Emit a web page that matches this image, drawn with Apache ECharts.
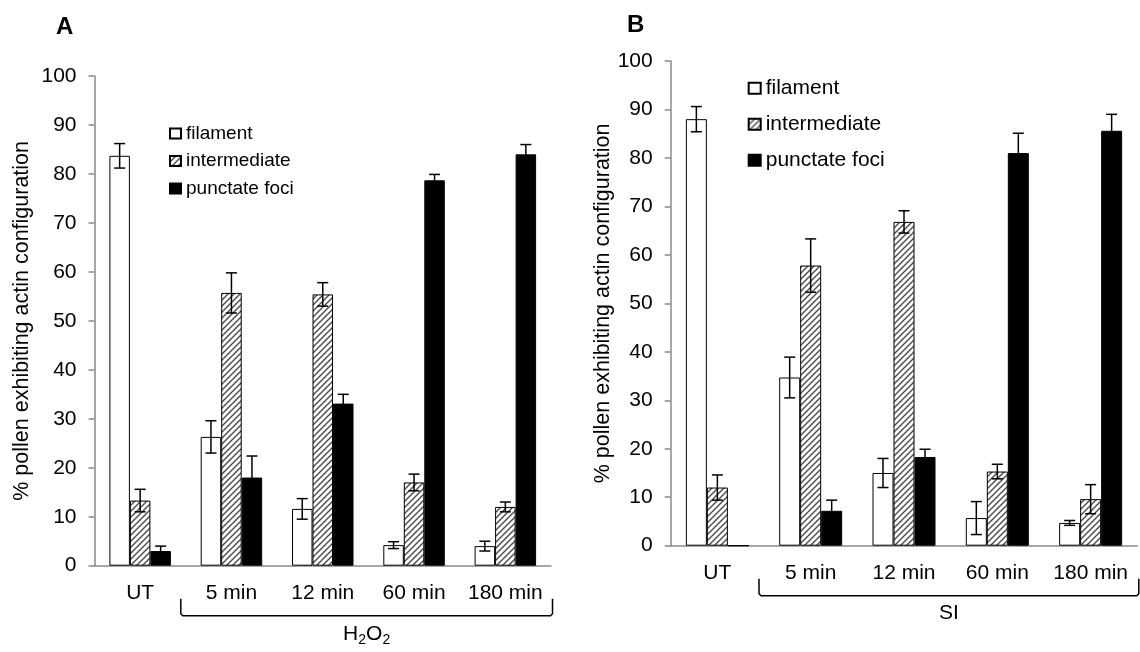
<!DOCTYPE html>
<html>
<head>
<meta charset="utf-8">
<script src="https://cdn.jsdelivr.net/npm/echarts@6/dist/echarts.min.js"></script>
<style>
  html, body { margin: 0; padding: 0; background: #fff; }
  #chart { width: 1140px; height: 652px; }
</style>
</head>
<body>
<div id="chart"></div>
<script>
// 横轴分类
const categories = ['UT', '5 min', '12 min', '60 min', '180 min']
const yTicks = [0, 10, 20, 30, 40, 50, 60, 70, 80, 90, 100]
const seriesNames = ['filament', 'intermediate', 'punctate foci']

// A: H2O2
const filamentA = [83.7, 26.3, 11.6, 4.2, 4.0]
const filamentErrA = [2.5, 3.3, 2.1, 0.7, 1.0]
const intermediateA = [13.3, 55.7, 55.4, 17.0, 12.0]
const intermediateErrA = [2.3, 4.1, 2.4, 1.7, 1.0]
const punctateA = [3.0, 18.0, 33.1, 78.7, 84.0]
const punctateErrA = [1.0, 4.4, 1.9, 1.2, 2.0]

// B: SI
const filamentB = [88.0, 34.7, 15.0, 5.7, 4.7]
const filamentErrB = [2.6, 4.2, 3.0, 3.4, 0.5]
const intermediateB = [12.0, 57.8, 66.8, 15.3, 9.6]
const intermediateErrB = [2.6, 5.5, 2.3, 1.5, 3.0]
const punctateB = [0, 7.2, 18.3, 81.0, 85.6]
const punctateErrB = [0, 2.2, 1.6, 4.1, 3.4]

const FONT = 'Liberation Sans, Arial, sans-serif'
const AXIS_GREY = '#8a8a8a'

// 斜线填充
function hatch() {
    const s = 6
    const c = document.createElement('canvas')
    c.width = s
    c.height = s
    const ctx = c.getContext('2d')
    ctx.fillStyle = '#fff'
    ctx.fillRect(0, 0, s, s)
    ctx.strokeStyle = '#4a4a4a'
    ctx.lineWidth = 1.4
    ctx.beginPath()
    ctx.moveTo(-1, s + 1); ctx.lineTo(s + 1, -1)
    ctx.moveTo(-1, 1); ctx.lineTo(1, -1)
    ctx.moveTo(s - 1, s + 1); ctx.lineTo(s + 1, s - 1)
    ctx.stroke()
    return { image: c, repeat: 'repeat' }
}
const fills = ['#fff', hatch(), '#000']

const grids = [
    { left: 94.5, right: 589, top: 76, bottom: 86.3, barWidth: 20.5 },
    { left: 670.7, right: 2.7, top: 61, bottom: 106.3, barWidth: 21 }
]
const values = [
    [filamentA, intermediateA, punctateA],
    [filamentB, intermediateB, punctateB]
]
const errors = [
    [filamentErrA, intermediateErrA, punctateErrA],
    [filamentErrB, intermediateErrB, punctateErrB]
]

function errorBar(k, bw) {
    return function (params, api) {
        const i = api.value(0)
        const v = api.value(1)
        const e = api.value(2)
        if (!e) return
        const x = api.coord([i, v])[0] + (k - 1) * bw
        const top = api.coord([i, v + e])[1]
        const bot = api.coord([i, v - e])[1]
        const half = 5.5
        const style = { stroke: '#000', lineWidth: 1.5 }
        return {
            type: 'group',
            children: [
                { type: 'line', shape: { x1: x, y1: top, x2: x, y2: bot }, style },
                { type: 'line', shape: { x1: x - half, y1: top, x2: x + half, y2: top }, style },
                { type: 'line', shape: { x1: x - half, y1: bot, x2: x + half, y2: bot }, style }
            ]
        }
    }
}

const series = []
grids.forEach((g, gi) => {
    seriesNames.forEach((name, k) => {
        series.push({
            name,
            type: 'bar',
            xAxisIndex: gi,
            yAxisIndex: gi,
            data: values[gi][k],
            barWidth: g.barWidth,
            barGap: '0%',
            itemStyle: { color: fills[k], borderColor: '#000', borderWidth: 1 },
            emphasis: { disabled: true }
        })
    })
    seriesNames.forEach((name, k) => {
        series.push({
            type: 'custom',
            xAxisIndex: gi,
            yAxisIndex: gi,
            z: 5,
            renderItem: errorBar(k, g.barWidth),
            data: values[gi][k].map((v, i) => [i, v, errors[gi][k][i]])
        })
    })
})

const options = {
    animation: false,
    textStyle: { fontFamily: FONT },
    title: [
        { text: 'A', left: 51, top: 10, textStyle: { fontSize: 24, fontWeight: 'bold', color: '#000', fontFamily: FONT } },
        { text: 'B', left: 622, top: 8, textStyle: { fontSize: 24, fontWeight: 'bold', color: '#000', fontFamily: FONT } }
    ],
    legend: [
        {
            data: seriesNames, orient: 'vertical', left: 164, top: 118.5,
            itemWidth: 11, itemHeight: 10, itemGap: 7.5, icon: 'rect',
            selectedMode: false,
            textStyle: { fontSize: 19, lineHeight: 20, color: '#000', fontFamily: FONT }
        },
        {
            data: seriesNames, orient: 'vertical', left: 742.7, top: 72.3,
            itemWidth: 12, itemHeight: 11, itemGap: 14, icon: 'rect',
            selectedMode: false,
            textStyle: { fontSize: 21, lineHeight: 22, color: '#000', fontFamily: FONT }
        }
    ],
    grid: grids.map(g => ({ left: g.left, right: g.right, top: g.top, bottom: g.bottom })),
    xAxis: grids.map((g, gi) => ({
        type: 'category',
        gridIndex: gi,
        data: categories,
        axisLine: { lineStyle: { color: AXIS_GREY, width: 1.5 } },
        axisTick: { length: 7, lineStyle: { color: AXIS_GREY, width: 1.5 } },
        axisLabel: { interval: 0, fontSize: 21, color: '#000', margin: 17, fontFamily: FONT }
    })),
    yAxis: grids.map((g, gi) => ({
        type: 'value',
        gridIndex: gi,
        min: yTicks[0],
        max: yTicks[yTicks.length - 1],
        interval: yTicks[1] - yTicks[0],
        name: '% pollen exhibiting actin configuration',
        nameLocation: 'middle',
        nameGap: gi === 0 ? 61 : 56,
        nameTextStyle: { fontSize: 21.5, color: '#000', fontFamily: FONT },
        splitLine: { show: false },
        axisLine: { show: true, lineStyle: { color: AXIS_GREY, width: 1.5 } },
        axisTick: { show: true, length: 6, lineStyle: { color: AXIS_GREY, width: 1.5 } },
        axisLabel: { fontSize: 21, color: '#000', margin: 18, fontFamily: FONT }
    })),
    series
}

const chart = echarts.init(document.getElementById('chart'), null, { renderer: 'canvas' })
chart.setOption(options)

// 括号与处理名称
const groupLabels = [
    { rich: '{n|H}{s|2}{n|O}{s|2}', dy: 69 },
    { rich: '{n|SI}', dy: 67.5 }
]
const graphics = []
grids.forEach((g, gi) => {
    const c1 = chart.convertToPixel({ gridIndex: gi }, [1, 0])
    const c2 = chart.convertToPixel({ gridIndex: gi }, [2, 0])
    const c4 = chart.convertToPixel({ gridIndex: gi }, [4, 0])
    const band = c2[0] - c1[0]
    const y0 = c1[1]
    const x0 = c1[0] - band / 2 - 5
    const x1 = c4[0] + band / 2 + 1.5
    const yt = y0 + 33
    const yb = y0 + 50
    const r = 2
    graphics.push({
        type: 'polyline',
        shape: {
            points: [[x0, yt], [x0, yb - r], [x0 + r, yb], [x1 - r, yb], [x1, yb - r], [x1, yt]]
        },
        style: { fill: null, stroke: '#000', lineWidth: 1.5 }
    })
    graphics.push({
        type: 'text',
        x: (x0 + x1) / 2,
        y: y0 + groupLabels[gi].dy,
        style: {
            text: groupLabels[gi].rich,
            align: 'center',
            verticalAlign: 'middle',
            rich: {
                n: { fontSize: 21, fontFamily: FONT, fill: '#000' },
                s: { fontSize: 14, fontFamily: FONT, fill: '#000', padding: [10, 0, 0, 0] }
            }
        }
    })
})
chart.setOption({ graphic: graphics })
</script>
</body>
</html>
